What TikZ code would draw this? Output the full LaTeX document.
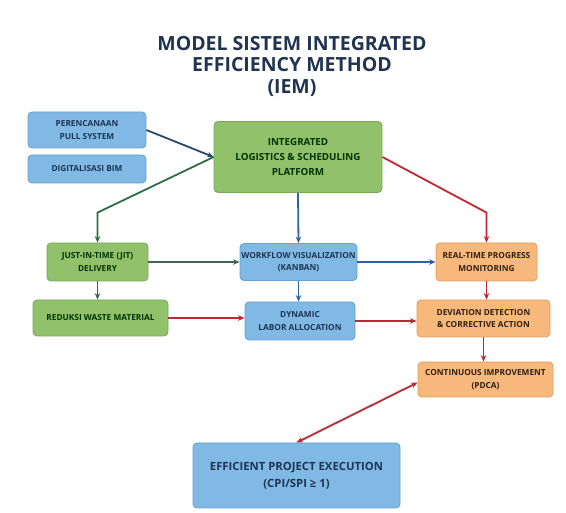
\documentclass[tikz,border=0pt]{standalone}
\usepackage{fontspec}
\setmainfont{Open Sans}
\usetikzlibrary{arrows.meta}
\definecolor{bfill}{RGB}{128,186,228}
\definecolor{bline}{RGB}{100,160,210}
\definecolor{gfill}{RGB}{146,193,108}
\definecolor{gline}{RGB}{120,170,85}
\definecolor{ofill}{RGB}{247,184,124}
\definecolor{oline}{RGB}{225,155,95}
\definecolor{navy}{RGB}{32,52,82}
\definecolor{arnavy}{RGB}{40,72,110}
\definecolor{argreen}{RGB}{45,110,70}
\definecolor{arslate}{RGB}{65,100,85}
\definecolor{arblue}{RGB}{45,100,160}
\definecolor{arred}{RGB}{190,40,50}
\begin{document}
\begin{tikzpicture}[x=1pt,y=1pt,
  bx/.style={rounded corners=4pt,align=center,inner sep=1pt,line width=0.8pt,
    font=\fontsize{8.3}{12.5}\selectfont\bfseries},
  bluebx/.style={bx,fill=bfill,draw=bline,text=navy},
  greenbx/.style={bx,fill=gfill,draw=gline,text=black!80!green},
  orangebx/.style={bx,fill=ofill,draw=oline,text=black!75!brown},
  arr/.style={line width=1.8pt,-{Stealth[length=6.5pt,width=5.5pt]}}]
\useasboundingbox (0,0) rectangle (566,-513);
\pgfmathsetmacro{\kbend}{30}
% title
\node[text=navy,align=center,font=\fontsize{19.5}{21.5}\selectfont\bfseries] (title) at (292,-66)
  {MODEL SISTEM INTEGRATED\\EFFICIENCY METHOD\\(IEM)};
% left inputs
\node[bluebx,minimum width=118pt,minimum height=36pt] (plan) at (87,-130) {PERENCANAAN\\PULL SYSTEM};
\node[bluebx,minimum width=118pt,minimum height=28pt] (bim) at (87,-169) {DIGITALISASI BIM};
% platform
\node[greenbx,minimum width=168pt,minimum height=71pt,font=\fontsize{9.8}{15}\selectfont\bfseries] (platform) at (298,-157)
  {INTEGRATED\\LOGISTICS \& SCHEDULING\\PLATFORM};
% green column
\node[greenbx,minimum width=101pt,minimum height=38pt] (jit) at (97.5,-262) {JUST-IN-TIME (JIT)\\DELIVERY};
\node[greenbx,minimum width=135pt,minimum height=36pt] (waste) at (100.5,-318) {REDUKSI WASTE MATERIAL};
% blue column
\node[bluebx,minimum width=117pt,minimum height=37pt] (flow) at (298.5,-262) {WORKFLOW VISUALIZATION\\(KANBAN)};
\node[bluebx,minimum width=110pt,minimum height=38pt] (labor) at (300,-321) {DYNAMIC\\LABOR ALLOCATION};
% orange column
\node[orangebx,minimum width=101pt,minimum height=38pt] (realtime) at (486.5,-262) {REAL-TIME PROGRESS\\MONITORING};
\node[orangebx,minimum width=133pt,minimum height=37pt] (deviation) at (483.5,-318.5) {DEVIATION DETECTION\\\& CORRECTIVE ACTION};
\node[orangebx,minimum width=135pt,minimum height=35pt] (improve) at (485.5,-379.5) {CONTINUOUS IMPROVEMENT\\(PDCA)};
% result
\node[bluebx,minimum width=207pt,minimum height=65pt,font=\fontsize{11.3}{17}\selectfont\bfseries] (exec) at (296.5,-475.5)
  {EFFICIENT PROJECT EXECUTION\\(CPI/SPI ≥ 1)};
% connectors
\draw[arr,arnavy] (plan.east) -- (platform.west);
\draw[arr,argreen] (platform.west) -- ([yshift=\kbend pt]jit.north) -- (jit.north);
\draw[arr,arblue] (platform.south) -- (flow.north);
\draw[arr,arred] (platform.east) -- ([yshift=\kbend pt]realtime.north) -- (realtime.north);
\draw[arr,arslate] (jit.east) -- (jit.east -| flow.west);
\draw[arr,arblue] (flow.east) -- (flow.east -| realtime.west);
\foreach \a/\b/\c in {jit/waste/argreen,flow/labor/arblue,realtime/deviation/arred,deviation/improve/arred}
  {\draw[arr,\c] (\a.south) -- (\a.south |- \b.north);}
\draw[arr,arred] (waste.east) -- (waste.east -| labor.west);
\draw[arr,arred] (labor.east) -- (labor.east -| deviation.west);
\draw[arr,arred,{Stealth[length=6.5pt,width=5.5pt]}-{Stealth[length=6.5pt,width=5.5pt]}] ([yshift=-3pt]improve.west) -- (exec.north);
\end{tikzpicture}
\end{document}
